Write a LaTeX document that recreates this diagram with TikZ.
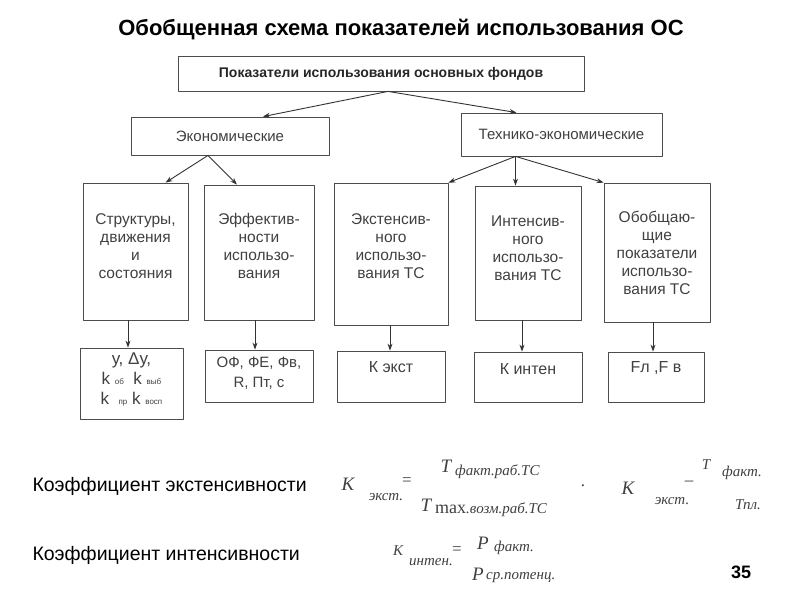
\documentclass[tikz,border=0pt]{standalone}
\usepackage{fontspec}
\setmainfont{Liberation Sans}
\newfontfamily\tmsfont{Liberation Serif}
\usepackage{tikz}
\usetikzlibrary{arrows.meta,calc,positioning}
\newcommand\smtxt[1]{{\fontsize{8}{8}\selectfont #1}}

\begin{document}
\begin{tikzpicture}[x=1pt,y=-1pt,>={Stealth[length=7pt,width=5pt]},line join=round,
  box/.style={draw=black!70,line width=0.8pt,inner sep=0pt,align=center,text=black!75,
    font=\fontsize{15}{18}\selectfont},
  boxtxt/.style={inner sep=0pt,align=center,text=black!75,font=\fontsize{15.5}{18}\selectfont},
  arr/.style={->,draw=black!80,line width=0.9pt},
  fml/.style={inner sep=0pt,text=black!75,font=\tmsfont\itshape\fontsize{19}{19}\selectfont},
  fsub/.style={inner sep=0pt,text=black!75,font=\tmsfont\itshape\fontsize{15}{15}\selectfont}]
  \useasboundingbox (0,0) rectangle (800,600);
  \node[font=\bfseries\fontsize{22}{22}\selectfont] (title) at (401,30) {Обобщенная схема показателей использования ОС};
  % levels 1 and 2
  \node[box,minimum width=406pt,minimum height=35pt,text=black!85,font=\bfseries\fontsize{14}{16}\selectfont] (top) at (381,73.5) {Показатели использования основных фондов};
  \node[box,minimum width=198pt,minimum height=38pt] (eco) at (230,136) {Экономические};
  \node[box,minimum width=201pt,minimum height=43pt] (tech) at (561.5,134.5) {Технико-экономические};
  % level 3
  \node[box,minimum width=105pt,minimum height=137pt] (s1) at (135.5,251.5) {};
  \node[box,minimum width=110pt,minimum height=135pt] (s2) at (259,252.5) {};
  \node[box,minimum width=114pt,minimum height=142pt] (s3) at (391,254) {};
  \node[box,minimum width=106pt,minimum height=134pt] (s4) at (528,253) {};
  \node[box,minimum width=106pt,minimum height=139pt] (s5) at (657,252.5) {};
  \node[boxtxt] (s1t) at ($(s1.center)+(0,-5.5)$) {Структуры,\\движения\\и\\состояния};
  \node[boxtxt] (s2t) at ($(s2.center)+(0,-6.5)$) {Эффектив-\\ности\\использо-\\вания};
  \node[boxtxt] (s3t) at ($(s3.center)+(0,-7.5)$) {Экстенсив-\\ного\\использо-\\вания ТС};
  \node[boxtxt] (s4t) at ($(s4.center)+(0,-4.5)$) {Интенсив-\\ного\\использо-\\вания ТС};
  \node[boxtxt] (s5t) at ($(s5.center)+(0,0.5)$) {Обобщаю-\\щие\\показатели\\использо-\\вания ТС};
  % level 4
  \node[box,minimum width=103pt,minimum height=71pt] (r1) at (131.5,383.5) {};
  \node[box,minimum width=108pt,minimum height=52pt] (r2) at (259,376) {};
  \node[box,minimum width=108pt,minimum height=51pt] (r3) at (391,376.5) {};
  \node[box,minimum width=108pt,minimum height=50pt] (r4) at (528,377) {};
  \node[box,minimum width=96pt,minimum height=50pt] (r5) at (656,377) {};
  \node[boxtxt,font=\fontsize{17}{20}\selectfont] (r1t) at ($(r1.center)+(0,-4)$)
    {у, Δу,\\k \smtxt{об}\ \ k \smtxt{выб}\\k \ \smtxt{пр} k \smtxt{восп}};
  \node[boxtxt,font=\fontsize{15}{20}\selectfont] (r2t) at ($(r2.center)+(0,-3)$) {ОФ, ФЕ, Фв,\\R, Пт, с};
  \node[boxtxt,font=\fontsize{16}{16}\selectfont] (r3t) at ($(r3.north)+(0,16)$) {К экст};
  \node[boxtxt,font=\fontsize{16}{16}\selectfont] (r4t) at ($(r4.north)+(0,17)$) {К интен};
  \node[boxtxt,font=\fontsize{16}{16}\selectfont] (r5t) at ($(r5.north)+(0,16)$) {Fл ,F в};
  % connectors
  \coordinate (topsplit) at ($(top.south)+(7,0)$);
  \coordinate (ecosplit) at ($(eco.south)+(-22,0)$);
  \coordinate (techsplit) at ($(tech.south)+(-46,0)$);
  \draw[arr] (topsplit) -- ($(eco.north)+(33,0)$);
  \draw[arr] (topsplit) -- ($(tech.north)+(-45,0)$);
  \draw[arr] (ecosplit) -- ($(s1.north)+(30,0)$);
  \draw[arr] (ecosplit) -- ($(s2.north)+(-22,0)$);
  \draw[arr] (techsplit) -- (s3.north east);
  \draw[arr] (techsplit) -- (techsplit |- s4.north);
  \draw[arr] (techsplit) -- (s5.north west);
  \coordinate (d1) at ($(r1.north)+(-3.5,0)$);
  \coordinate (d2) at ($(r2.north)+(-4,0)$);
  \coordinate (d3) at ($(r3.north)+(-1,0)$);
  \coordinate (d4) at ($(r4.north)+(-6,0)$);
  \coordinate (d5) at ($(r5.north)+(-3,0)$);
  \draw[arr] (d1 |- s1.south) -- (d1);
  \draw[arr] (d2 |- s2.south) -- (d2);
  \draw[arr] (d3 |- s3.south) -- (d3);
  \draw[arr] (d4 |- s4.south) -- (d4);
  \draw[arr] (d5 |- s5.south) -- (d5);
  % formulas
  \node[anchor=west,font=\fontsize{19.5}{19.5}\selectfont] (kext) at (29,486) {Коэффициент экстенсивности};
  \node[anchor=west,font=\fontsize{19.5}{19.5}\selectfont] (kint) at (29,555) {Коэффициент интенсивности};
  \node[fml] (f1k) at (348,484) {K};
  \node[fsub] (f1s) at (386,497) {экст.};
  \node[fml,font=\tmsfont\fontsize{17}{17}\selectfont] (f1e) at (407,482) {=};
  \node[fml] (f1t) at (446,466) {T};
  \node[fsub,anchor=west] (f1ts) at (455,472) {факт.раб.ТС};
  \node[fml] (f1b) at (426,505) {T};
  \node[fsub,anchor=west] (f1bs) at (435,510) {{\upshape\fontsize{18}{18}\selectfont max}.возм.раб.ТС};
  \node[fml,font=\tmsfont\fontsize{17}{17}\selectfont] (f1p) at (583,486) {.};
  \node[fml] (f2k) at (628,488) {K};
  \node[fsub] (f2s) at (672,501) {экст.};
  \node[fml,font=\tmsfont\fontsize{17}{17}\selectfont] (f2e) at (689,483) {–};
  \node[fml,font=\tmsfont\itshape\fontsize{15}{15}\selectfont] (f2t) at (706,465) {T};
  \node[fsub,anchor=west] (f2ts) at (722,473) {факт.};
  \node[fsub] (f2b) at (748,505) {Тпл.};
  \node[fml,font=\tmsfont\itshape\fontsize{15}{15}\selectfont] (f3k) at (398,551) {K};
  \node[fsub] (f3s) at (431,562) {интен.};
  \node[fml,font=\tmsfont\fontsize{17}{17}\selectfont] (f3e) at (457,551) {=};
  \node[fml] (f3p) at (483,543) {P};
  \node[fsub,anchor=west] (f3ps) at (494,548) {факт.};
  \node[fml] (f3q) at (478,574) {P};
  \node[fsub,anchor=west] (f3qs) at (486,578) {ср.потенц.};
  \node[font=\bfseries\fontsize{18}{18}\selectfont] (pnum) at (741,572) {35};
\end{tikzpicture}
\end{document}
